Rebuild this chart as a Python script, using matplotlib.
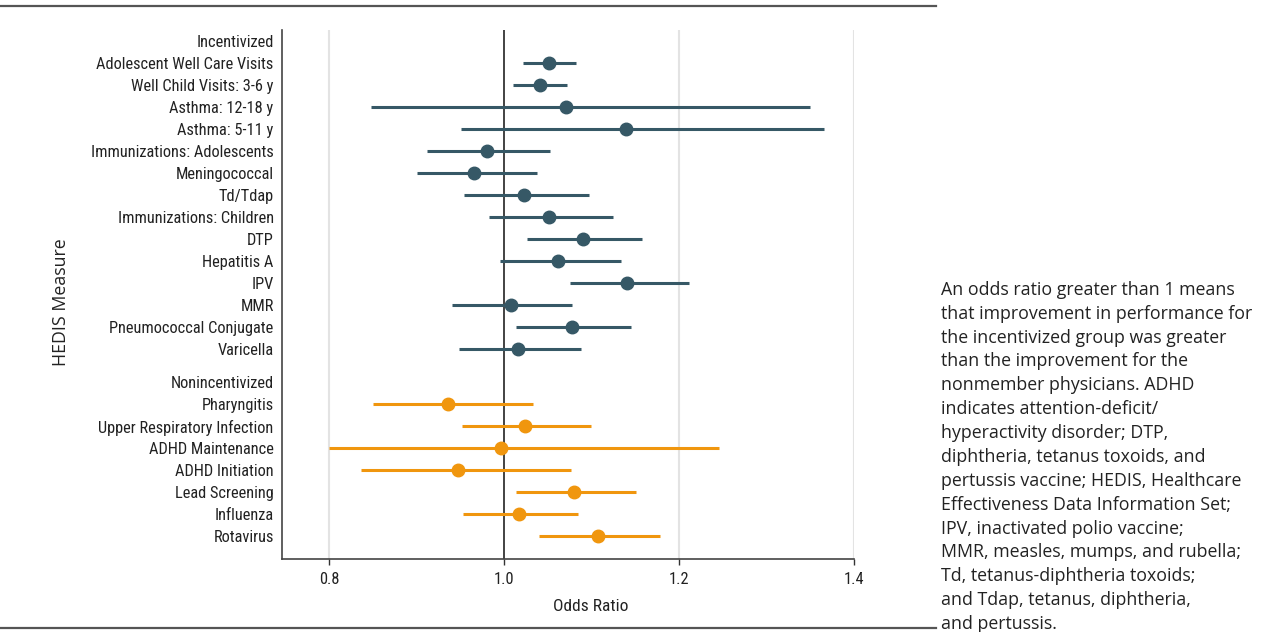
import matplotlib.pyplot as plt
from matplotlib.lines import Line2D
from matplotlib import font_manager

# HEDIS measures, odds ratio and 95% CI
inc_labels = ["Adolescent Well Care Visits", "Well Child Visits: 3-6 y", "Asthma: 12-18 y",
              "Asthma: 5-11 y", "Immunizations: Adolescents", "Meningococcal", "Td/Tdap",
              "Immunizations: Children", "DTP", "Hepatitis A", "IPV", "MMR",
              "Pneumococcal Conjugate", "Varicella"]
inc_or = [1.052, 1.041, 1.071, 1.139, 0.980, 0.966, 1.023, 1.052, 1.090, 1.062, 1.141, 1.008, 1.078, 1.016]
inc_lo = [1.022, 1.010, 0.848, 0.951, 0.912, 0.900, 0.954, 0.983, 1.026, 0.995, 1.075, 0.941, 1.014, 0.949]
inc_hi = [1.082, 1.072, 1.350, 1.366, 1.053, 1.038, 1.097, 1.125, 1.158, 1.134, 1.212, 1.078, 1.145, 1.088]

non_labels = ["Pharyngitis", "Upper Respiratory Infection", "ADHD Maintenance", "ADHD Initiation",
              "Lead Screening", "Influenza", "Rotavirus"]
non_or = [0.936, 1.024, 0.997, 0.947, 1.080, 1.017, 1.107]
non_lo = [0.850, 0.952, 0.800, 0.836, 1.014, 0.953, 1.040]
non_hi = [1.033, 1.100, 1.246, 1.077, 1.151, 1.085, 1.179]

note = ("An odds ratio greater than 1 means\n"
        "that improvement in performance for\n"
        "the incentivized group was greater\n"
        "than the improvement for the\n"
        "nonmember physicians. ADHD\n"
        "indicates attention-deficit/\n"
        "hyperactivity disorder; DTP,\n"
        "diphtheria, tetanus toxoids, and\n"
        "pertussis vaccine; HEDIS, Healthcare\n"
        "Effectiveness Data Information Set;\n"
        "IPV, inactivated polio vaccine;\n"
        "MMR, measles, mumps, and rubella;\n"
        "Td, tetanus-diphtheria toxoids;\n"
        "and Tdap, tetanus, diphtheria,\n"
        "and pertussis.")

slate = "#365866"
orange = "#f0960e"

# pick a narrow family if one is installed
names = {f.name for f in font_manager.fontManager.ttflist}
narrow = [n for n in ["Roboto Condensed", "Liberation Sans Narrow", "Open Sans Condensed",
                      "DejaVu Sans Condensed"] if n in names]
lab_size = 11.8 if narrow else 10.2
narrow = narrow + ["Roboto", "DejaVu Sans"]

# row positions: header, incentivized rows, half-row gap, header, nonincentivized rows
inc_y = [i + 1 for i in range(len(inc_labels))]
non_head = len(inc_labels) + 1.5
non_y = [non_head + 1 + i for i in range(len(non_labels))]

fig = plt.figure(figsize=(12.62, 6.32), dpi=100)
ax = fig.add_axes([0.2235, 0.115, 0.4529, 0.8375])

ax.hlines(inc_y, inc_lo, inc_hi, color=slate, lw=2.2, zorder=3)
ax.plot(inc_or, inc_y, "o", color=slate, ms=9, zorder=4)
ax.hlines(non_y, non_lo, non_hi, color=orange, lw=2.2, zorder=3)
ax.plot(non_or, non_y, "o", color=orange, ms=9, zorder=4)

ax.axvline(1.0, color="#222222", lw=1.2, zorder=2)
for g in [0.8, 1.2, 1.4]:
    ax.axvline(g, color="#e3e3e3", lw=1.5, zorder=1)

ax.set_xlim(0.746, 1.4)
ax.set_ylim(23.56, -0.5)
ax.set_xticks([0.8, 1.0, 1.2, 1.4])
ax.set_xticklabels(["0.8", "1.0", "1.2", "1.4"], fontsize=lab_size, family=narrow, color="#222222")
ax.set_yticks([0] + inc_y + [non_head] + non_y)
ax.set_yticklabels(["Incentivized"] + inc_labels + ["Nonincentivized"] + non_labels,
                   fontsize=lab_size, family=narrow, color="#222222")
ax.tick_params(axis="y", length=0, pad=6)
ax.tick_params(axis="x", length=4, width=1, color="#333333", pad=5)
for s in ["top", "right"]:
    ax.spines[s].set_visible(False)
for s in ["left", "bottom"]:
    ax.spines[s].set_color("#444444")
    ax.spines[s].set_linewidth(1.2)

ax.set_xlabel("Odds Ratio", fontsize=12.5, family=narrow, color="#222222")
ax.xaxis.set_label_coords(0.5406, -0.075)
fig.text(0.048, 0.522, "HEDIS Measure", rotation=90, fontsize=12.8, family=["Open Sans", "DejaVu Sans"],
         color="#222222", ha="center", va="center")

fig.text(0.7455, 0.277, note, fontsize=12.8, family=["Open Sans", "DejaVu Sans"],
         color="#222222", ha="left", va="center", linespacing=1.42)

# rules at top and bottom of the figure
fig.add_artist(Line2D([0, 0.7415], [0.9905, 0.9905], color="#555555", lw=1.6))
fig.add_artist(Line2D([0, 0.7415], [0.0065, 0.0065], color="#555555", lw=1.6))

fig.savefig("out.png", dpi=100)
